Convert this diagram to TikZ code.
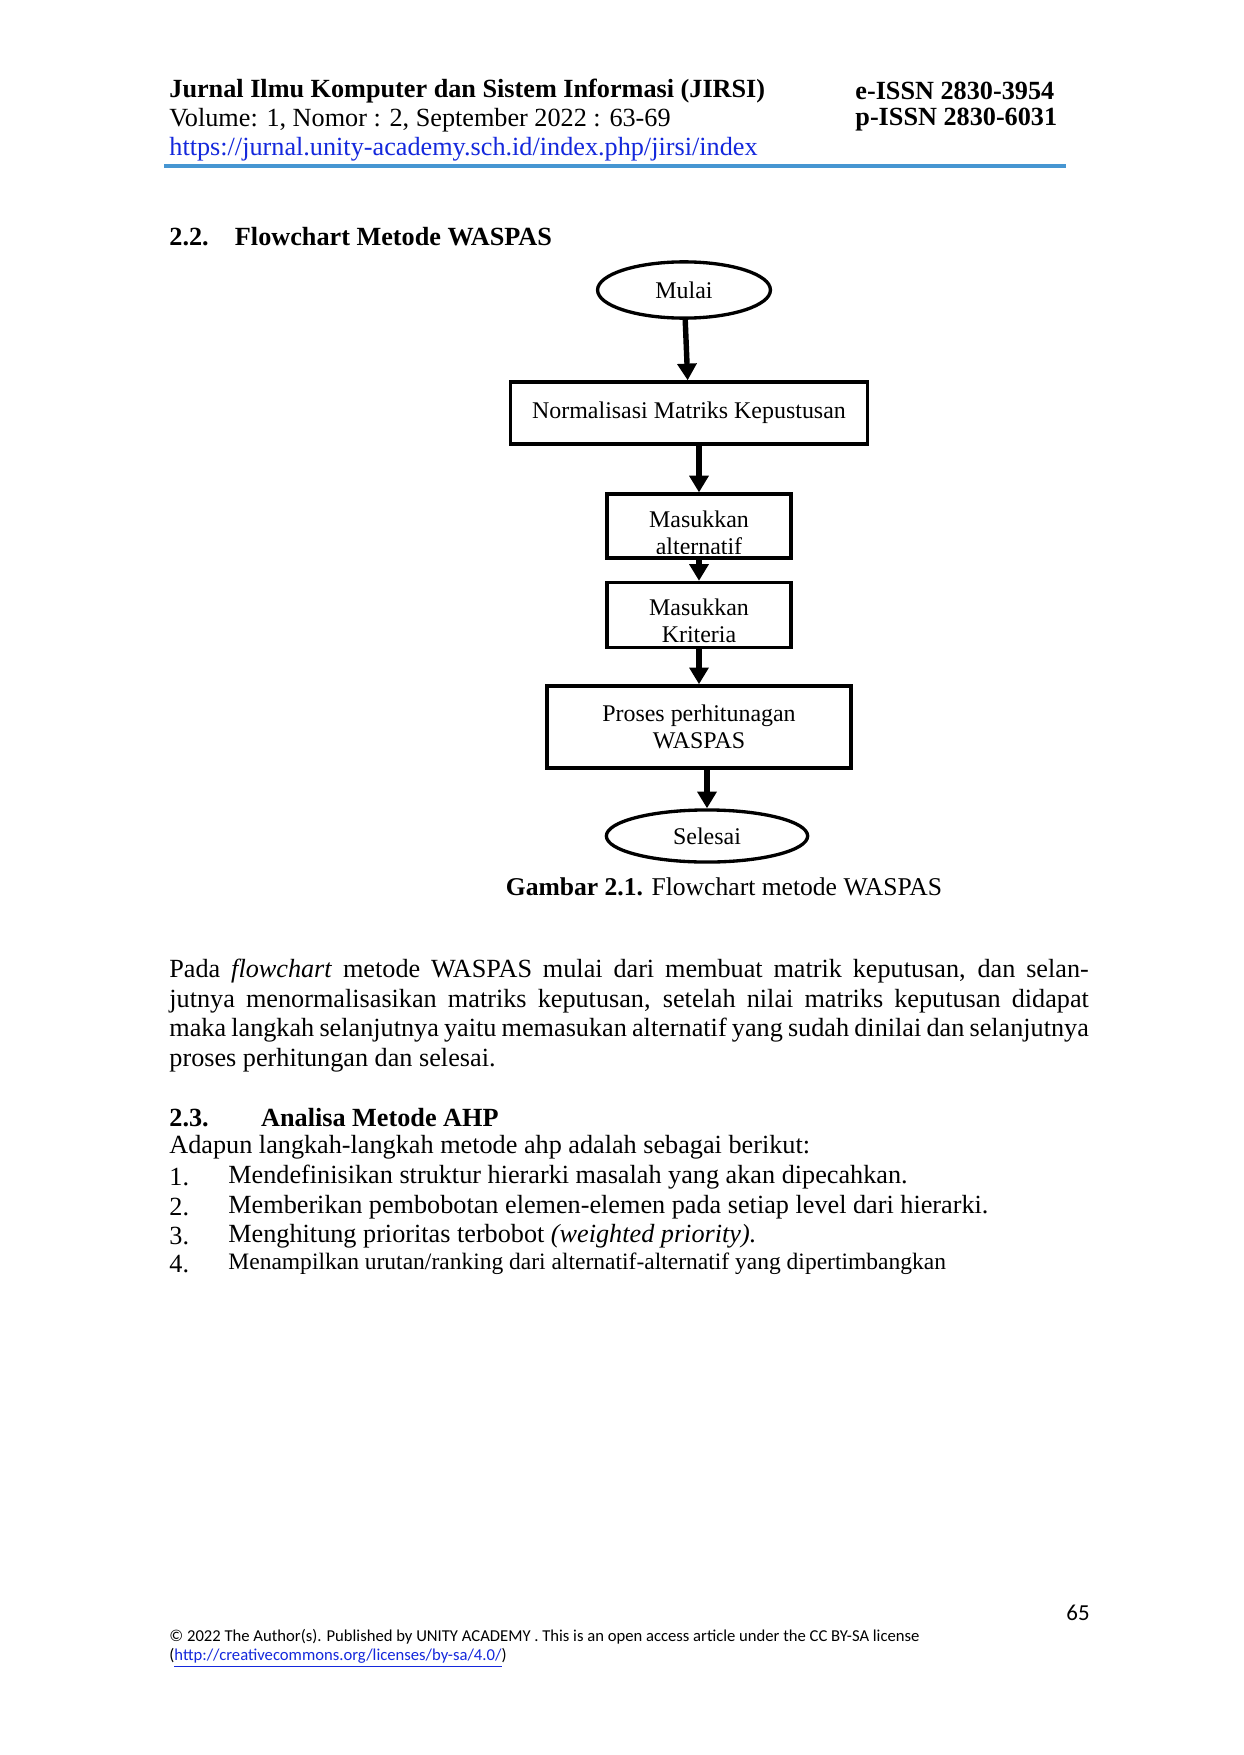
\documentclass[tikz,border=0pt]{standalone}
\usepackage{fontspec}
\setmainfont{Liberation Serif}
\newfontfamily\calib{Carlito}
\usetikzlibrary{positioning,shapes.geometric,arrows.meta}
\definecolor{linkblue}{RGB}{20,40,220}
\definecolor{ruleblue}{RGB}{70,150,210}
\tikzset{
  flowbox/.style={draw,line width=1.6pt,rectangle,align=center,font=\fontsize{11.5}{13}\selectfont},
  flowend/.style={draw,line width=1.6pt,ellipse,font=\fontsize{11.5}{13}\selectfont},
  flowarrow/.style={line width=2.6pt,-{Triangle[width=9pt,length=8pt]}},
  body/.style={anchor=west,inner sep=0pt,font=\fontsize{12.6}{14.2}\selectfont}
}
\begin{document}
\begin{tikzpicture}[x=0.016895cm,y=-0.016895cm]
	\useasboundingbox[fill=white] (0,0) rectangle (1243,1755);
	% header
	\node[body] (jtitle) at (169,91) {\bfseries Jurnal Ilmu Komputer dan Sistem Informasi (JIRSI)};
	\node[body] (jvol) at (169,120) {Volume: 1, Nomor : 2, September 2022 : 63-69};
	\node[body,text=linkblue] (jurl) at (169,149) {https://jurnal.unity-academy.sch.id/index.php/jirsi/index};
	\node[body] (eissn) at (855,91) {\bfseries e-ISSN 2830-3954};
	\node[body] (pissn) at (855,120) {\bfseries p-ISSN 2830-6031};
	\draw[ruleblue,line width=1.5pt] (164,166) -- (1066,166);
	\node[body] (sec22) at (169,237) {\bfseries 2.2.\quad Flowchart Metode WASPAS};
	% flowchart
	\node[flowend,minimum width=2.92cm,minimum height=0.95cm] (mulai) at (684,290) {Mulai};
	\node[flowbox,minimum width=6.03cm,minimum height=1.05cm] (norm) at (689,413) {Normalisasi Matriks Kepustusan};
	\begin{scope}
	  \clip (607,494) rectangle (791,553);
	  \node[align=center,font=\fontsize{11.5}{13}\selectfont] (alttxt) at (699,533) {Masukkan\\alternatif};
	\end{scope}
	\node[flowbox,minimum width=3.11cm,minimum height=1.08cm] (alt) at (699,526) {};
	\begin{scope}
	  \clip (607,582) rectangle (791,642);
	  \node[align=center,font=\fontsize{11.5}{13}\selectfont] (krittxt) at (699,621) {Masukkan\\Kriteria};
	\end{scope}
	\node[flowbox,minimum width=3.11cm,minimum height=1.1cm] (krit) at (699,615) {};
	\node[flowbox,minimum width=5.14cm,minimum height=1.39cm] (proses) at (699,727) {Proses perhitunagan\\WASPAS};
	\node[flowend,minimum width=3.40cm,minimum height=0.88cm] (selesai) at (707,836) {Selesai};
	\draw[flowarrow] (mulai) -- (norm);
	\draw[flowarrow] (norm.south -| alt.north) -- (alt);
	\draw[flowarrow] (alt) -- (krit);
	\draw[flowarrow] (krit) -- (proses);
	\draw[flowarrow] (proses.south -| selesai.north) -- (selesai);
	\node[font=\fontsize{12.3}{14}\selectfont] (caption) at (724,887) {\textbf{Gambar 2.1.} Flowchart metode WASPAS};
	% body text
	\node[body,anchor=north west,text width=15.53cm,align=justify,font=\fontsize{12.6}{14.2}\selectfont] (para) at (169,959)
	  {Pada \textit{flowchart} metode WASPAS mulai dari membuat matrik keputusan, dan selanjutnya menormalisasikan matriks keputusan, setelah nilai matriks keputusan didapat maka langkah selanjutnya yaitu memasukan alternatif yang sudah dinilai dan selanjutnya proses perhitungan dan selesai.};
	\node[body] (sec23) at (169,1118) {\bfseries 2.3.\qquad Analisa Metode AHP};
	\node[body] (intro) at (169,1147) {Adapun langkah-langkah metode ahp adalah sebagai berikut:};
	\foreach \n/\yy/\txt in {1/1177/{Mendefinisikan struktur hierarki masalah yang akan dipecahkan.},
	  2/1207/{Memberikan pembobotan elemen-elemen pada setiap level dari hierarki.},
	  3/1236/{Menghitung prioritas terbobot \textit{(weighted priority).}}}{
	  \node[body] (num\n) at (169,\yy) {\n.};
	  \node[body] (item\n) at (228,\yy) {\txt};
	}
	\node[body] (num4) at (169,1264) {4.};
	\node[body,font=\fontsize{11.3}{13}\selectfont] (item4) at (228,1264) {Menampilkan urutan/ranking dari alternatif-alternatif yang dipertimbangkan};
	% footer
	\node[body,font=\calib\fontsize{11}{13}\selectfont] (pagenum) at (1066,1613) {65};
	\node[body,font=\calib\fontsize{8}{10}\selectfont] (foot1) at (169,1637) {© 2022 The Author(s). Published by UNITY ACADEMY . This is an open access article under the CC BY-SA license};
	\node[body,font=\calib\fontsize{8}{10}\selectfont] (foot2) at (169,1658) {(\textcolor{linkblue}{\underline{http://creativecommons.org/licenses/by-sa/4.0/}})};
\end{tikzpicture}
\end{document}
